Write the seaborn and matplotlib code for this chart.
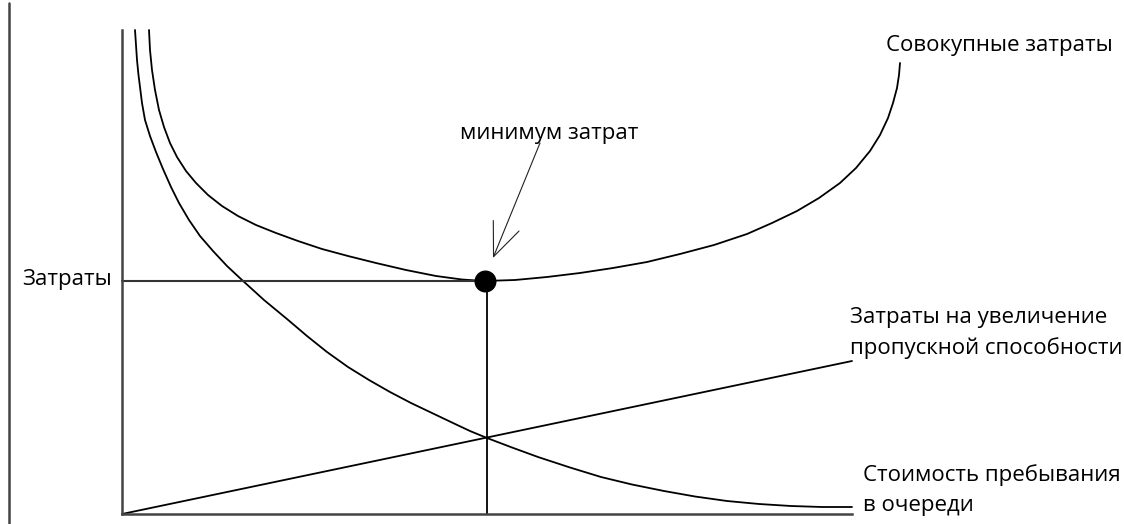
import numpy as np
import pandas as pd
import matplotlib
matplotlib.use("Agg")
import matplotlib.pyplot as plt
import seaborn as sns

# curve values (quantity on x, cost on y)
waiting_x = [13, 14, 15, 16.5, 18, 20, 23, 28, 34, 41, 49, 57, 67, 78, 91, 105, 120, 142, 165, 185,
             205, 226, 247, 268, 289, 310, 331, 348, 365, 390, 416, 448, 479, 510, 542, 573, 605,
             637, 669, 700, 730]
waiting_y = [484, 469, 454, 439, 427, 411, 394, 378, 362, 345, 327, 311, 294, 278, 263, 248, 234, 214,
             195, 178, 162, 147, 134, 122, 111, 101, 91, 83, 76, 66.5, 57, 46.5, 37, 29.5, 23, 17.5,
             13, 10, 8, 7, 7]

total_x = [27, 28, 30, 33, 37, 42, 48, 55, 64, 74, 86, 100, 116, 134, 154, 176, 200, 226, 254, 284,
           314, 340, 362, 393, 425, 458, 491, 525, 558, 592, 625, 650, 675, 697, 718, 734, 748,
           758, 766, 771, 775, 777, 778]
total_y = [484, 464, 444, 424, 404, 387, 371, 357, 343, 331, 319, 308, 298, 289, 281, 273, 265, 258,
           251, 244, 238, 234.5, 233, 234, 237, 241, 246, 252, 260, 269, 280, 291, 303, 316, 331,
           346, 363, 379, 396, 411, 426, 439, 451]

capacity_x = [0, 730]
capacity_y = [0, 153]

# optimum point
opt_x = 363
opt_y = 233

axis_len_x = 730
axis_len_y = 484

sns.set_theme(style="white")
plt.rcParams["font.family"] = ["Open Sans", "DejaVu Sans"]

fig = plt.figure(figsize=(11.24, 5.24), dpi=100)
ax = fig.add_axes([0, 0, 1, 1])
ax.set_xlim(-122, 1002)
ax.set_ylim(-10, 514)

curve_kw = dict(color="black", linewidth=1.3, sort=False, estimator=None, legend=False)
sns.lineplot(x=waiting_x, y=waiting_y, ax=ax, **curve_kw)
sns.lineplot(x=total_x, y=total_y, ax=ax, **curve_kw)
sns.lineplot(x=capacity_x, y=capacity_y, ax=ax, **curve_kw)
for ln in ax.lines:
    ln.set_solid_joinstyle("round")

# guide lines to the optimum
ax.plot([0, opt_x], [opt_y, opt_y], color="#333333", linewidth=1.5)
ax.plot([opt_x + 2, opt_x + 2], [0, opt_y], color="black", linewidth=1.3)
ax.scatter([opt_x], [opt_y], s=220, color="black", zorder=5)

# axes
for side in ["top", "right"]:
    ax.spines[side].set_visible(False)
ax.spines["left"].set_position(("data", 0))
ax.spines["bottom"].set_position(("data", 0))
ax.spines["left"].set_bounds(0, axis_len_y)
ax.spines["bottom"].set_bounds(0, axis_len_x)
for side in ["left", "bottom"]:
    ax.spines[side].set_color("#444444")
    ax.spines[side].set_linewidth(1.8)
ax.set_xticks([])
ax.set_yticks([])
ax.patch.set_alpha(0)

# frame line at the far left
ax.plot([-113, -113], [-10, 511], color="#444444", linewidth=1.8)

fs = 16
txt = dict(fontsize=fs, ha="left", va="center", color="black")
ax.text(764, 469, "Совокупные затраты", **txt)
ax.text(338, 381, "минимум затрат", **txt)
ax.text(-100, 234, "Затраты", **txt)
ax.text(728, 196, "Затраты на увеличение", **txt)
ax.text(728, 166, "пропускной способности", **txt)
ax.text(741, 39, "Стоимость пребывания", **txt)
ax.text(741, 9, "в очереди", **txt)

ax.annotate("", xy=(371, 256), xytext=(418, 371),
            arrowprops=dict(arrowstyle="->,head_length=1.2,head_width=0.5",
                            color="#222222", linewidth=0.8, mutation_scale=20,
                            shrinkA=0, shrinkB=0))

fig.savefig("out.png", dpi=100)
